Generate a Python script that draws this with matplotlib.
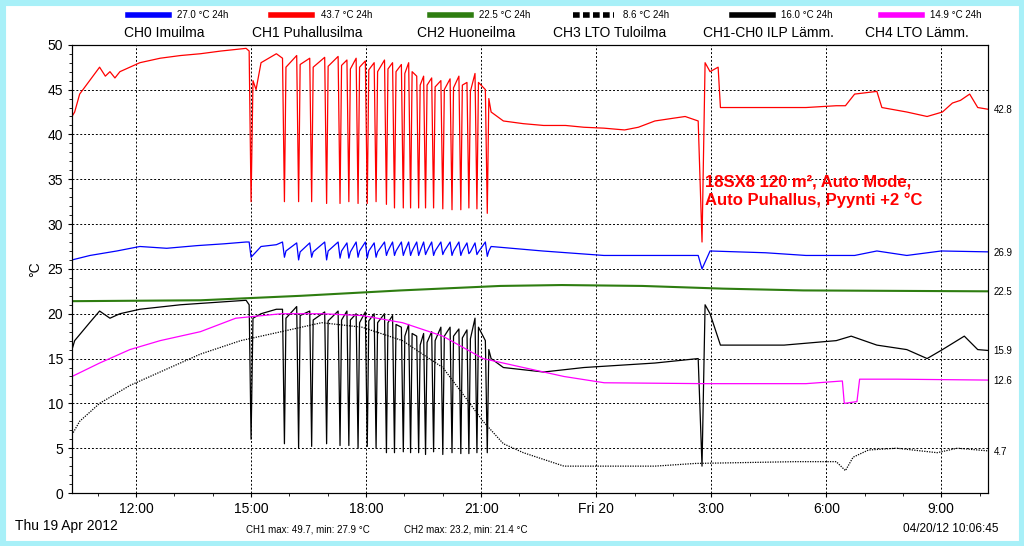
import numpy as np
import matplotlib.pyplot as plt
from matplotlib.patches import Rectangle
from matplotlib.lines import Line2D

plt.rcParams["font.family"] = ["Liberation Sans", "DejaVu Sans"]

###############################################
# Data (time in hours from Thu 00:00)
###############################################

# compressor cycling between 15:45 and 21:10
drop_t = [15.87, 16.24, 16.58, 16.97, 17.32, 17.55, 17.79, 18.03, 18.26, 18.53, 18.74,
          18.97, 19.16, 19.37, 19.55, 19.76, 20.0, 20.24, 20.47, 20.68, 20.89, 21.16]
ch1_peak = [48.5, 48.8, 48.5, 48.6, 48.7, 48.3, 48.5, 48.2, 48.0, 48.3, 48.0,
            47.8, 48.0, 46.5, 46.5, 46.3, 46.0, 46.2, 46.5, 45.8, 46.8, 45.0]
ch1_trough = [32.5, 32.5, 32.5, 32.3, 32.3, 32.5, 32.3, 32.3, 32.5, 32.2, 31.8,
              31.8, 31.8, 31.8, 31.8, 31.8, 31.7, 31.6, 31.6, 31.8, 31.7, 31.2]
ch0_peak = [28.0, 27.9, 27.9, 28.0, 28.0, 27.9, 28.0, 28.0, 27.9, 28.0, 28.0,
            28.0, 28.0, 28.0, 28.0, 28.0, 28.0, 28.0, 28.0, 27.9, 27.9, 28.0]
ch0_trough = [26.3, 26.0, 26.3, 26.0, 26.2, 26.2, 26.3, 26.2, 26.3, 26.5, 26.5,
              26.5, 26.5, 26.5, 26.6, 26.5, 26.6, 26.5, 26.5, 26.7, 26.6, 26.4]
dt_peak = [20.5, 20.8, 20.3, 20.2, 20.3, 20.3, 20.0, 20.2, 20.0, 20.0, 19.8,
           18.5, 18.8, 17.5, 17.8, 18.0, 18.5, 18.5, 18.3, 18.2, 19.5, 17.0]
dt_trough = [5.5, 5.0, 5.2, 5.5, 5.3, 5.3, 5.0, 5.2, 5.0, 4.5, 4.5,
             4.6, 4.5, 4.5, 4.3, 4.6, 4.3, 4.5, 4.4, 4.4, 4.5, 4.5]

ch1_t0 = [10.33, 10.4, 10.53, 10.79, 11.05, 11.2, 11.32, 11.45, 11.58, 12.1, 12.63,
          13.16, 13.68, 14.21, 14.87, 14.95, 15.0, 15.05, 15.13, 15.26, 15.66]
ch1_v0 = [42.0, 42.5, 44.5, 46.0, 47.5, 46.5, 47.0, 46.3, 47.0, 48.0, 48.5,
          48.8, 49.0, 49.3, 49.6, 49.3, 32.5, 46.0, 45.0, 48.0, 49.0]
ch1_t1 = [21.26, 21.58, 22.1, 22.63, 23.2, 23.68, 24.2, 24.74, 25.1, 25.53, 26.0,
          26.32, 26.66, 26.76, 26.84, 26.97, 27.18, 27.24, 28.42, 29.47, 30.26,
          30.5, 30.74, 31.32, 31.45, 32.1, 32.63, 33.03, 33.29, 33.5, 33.74, 33.95, 34.23]
ch1_v1 = [42.5, 41.5, 41.2, 41.0, 41.0, 40.8, 40.7, 40.5, 40.8, 41.5, 41.8,
          42.0, 41.5, 28.0, 48.0, 47.0, 47.5, 43.0, 43.0, 43.0, 43.2,
          43.2, 44.5, 44.8, 43.0, 42.5, 42.0, 42.5, 43.5, 43.8, 44.5, 43.0, 42.8]

ch0_t0 = [10.33, 10.8, 11.5, 12.1, 12.8, 13.6, 14.3, 14.87, 14.95, 15.0, 15.26, 15.66]
ch0_v0 = [26.0, 26.5, 27.0, 27.5, 27.3, 27.6, 27.8, 28.0, 28.0, 26.3, 27.5, 27.7]
ch0_t1 = [21.26, 22.6, 24.2, 26.66, 26.76, 26.97, 28.42, 29.47, 30.74, 31.32, 32.1, 33.0, 34.23]
ch0_v1 = [27.5, 27.0, 26.5, 26.5, 25.0, 27.0, 26.8, 26.5, 26.5, 27.0, 26.5, 27.0, 26.9]

ch2_t = [10.33, 13.68, 16.3, 18.9, 21.5, 23.1, 25.2, 27.3, 29.4, 34.23]
ch2_v = [21.4, 21.5, 22.0, 22.6, 23.1, 23.2, 23.1, 22.8, 22.6, 22.5]

dt_t0 = [10.33, 10.4, 10.79, 11.05, 11.32, 11.58, 12.1, 13.16, 14.87, 14.95, 15.0, 15.05,
         15.26, 15.66]
dt_v0 = [16.0, 17.0, 19.0, 20.3, 19.5, 20.0, 20.5, 21.0, 21.5, 21.0, 6.0, 19.5, 20.0, 20.5]
dt_t1 = [21.26, 21.58, 22.63, 23.68, 25.53, 26.66, 26.76, 26.84, 26.97, 27.24, 28.9,
         30.26, 30.65, 31.32, 32.1, 32.63, 33.03, 33.6, 33.95, 34.23]
dt_v1 = [15.0, 14.0, 13.5, 14.0, 14.5, 15.0, 3.0, 21.0, 20.0, 16.5, 16.5,
         17.0, 17.5, 16.5, 16.0, 15.0, 16.0, 17.5, 16.0, 15.9]

ch4_t = [10.33, 11.05, 11.84, 12.63, 13.68, 14.6, 15.79, 16.84, 17.89, 18.95, 20.0,
         21.05, 22.1, 23.16, 24.21, 26.84, 29.47, 30.42, 30.47, 30.8, 30.87, 31.84, 34.23]
ch4_v = [13.0, 14.5, 16.0, 17.0, 18.0, 19.5, 20.0, 20.0, 19.8, 19.0, 17.5,
         15.0, 14.0, 13.0, 12.3, 12.2, 12.2, 12.5, 10.0, 10.2, 12.7, 12.7, 12.6]

ch3_t = [10.33, 10.53, 11.05, 11.84, 12.89, 13.68, 14.73, 15.79, 16.84, 17.89, 18.95,
         19.47, 20.0, 20.53, 21.05, 21.58, 22.1, 23.16, 24.21, 25.53, 26.58, 29.2,
         30.26, 30.5, 30.7, 31.1, 31.84, 32.89, 33.42, 34.23]
ch3_v = [6.5, 8.0, 10.0, 12.0, 14.0, 15.5, 17.0, 18.0, 19.0, 18.5, 17.0,
         15.5, 14.0, 11.0, 8.0, 5.5, 4.5, 3.0, 3.0, 3.0, 3.3, 3.5,
         3.5, 2.5, 4.0, 4.8, 5.0, 4.5, 5.0, 4.7]

last_vals = [42.8, 26.9, 22.5, 15.9, 12.6, 4.7]
legend_vals = ["27.0 °C 24h", "43.7 °C 24h", "22.5 °C 24h", "8.6 °C 24h", "16.0 °C 24h", "14.9 °C 24h"]
names = ["CH0 Imuilma", "CH1 Puhallusilma", "CH2 Huoneilma", "CH3 LTO Tuloilma",
         "CH1-CH0 ILP Lämm.", "CH4 LTO Lämm."]
colors = ["#0000ff", "#ff0000", "#2e7d10", "#000000", "#000000", "#ff00ff"]

tick_h = [12, 15, 18, 21, 24, 27, 30, 33]
tick_lab = ["12:00", "15:00", "18:00", "21:00", "Fri 20", "3:00", "6:00", "9:00"]


def cycled(t0, v0, t1, v1, peaks, troughs):
    t, v = list(t0), list(v0)
    for d, p, q in zip(drop_t, peaks, troughs):
        t += [d - 0.05, d, d + 0.04]
        v += [p, q, p - 1.0]
    return np.array(t + list(t1)), np.array(v + list(v1))


###############################################
# Plot
###############################################

fig = plt.figure(figsize=(10.24, 5.46), dpi=100)
fig.patch.set_facecolor("white")
fig.add_artist(Rectangle((0, 0), 1, 1, transform=fig.transFigure, fill=False,
                         edgecolor="#a8f0f8", linewidth=8))

ax = fig.add_axes([0.0703, 0.097, 0.895, 0.821])

t, v = cycled(ch1_t0, ch1_v0, ch1_t1, ch1_v1, ch1_peak, ch1_trough)
ax.plot(t, v, color=colors[1], lw=0.9)
t, v = cycled(ch0_t0, ch0_v0, ch0_t1, ch0_v1, ch0_peak, ch0_trough)
ax.plot(t, v, color=colors[0], lw=0.9)
ax.plot(ch2_t, ch2_v, color=colors[2], lw=1.5)
ax.plot(ch3_t, ch3_v, color="black", lw=0.9, ls=(0, (1, 1)))
t, v = cycled(dt_t0, dt_v0, dt_t1, dt_v1, dt_peak, dt_trough)
ax.plot(t, v, color="black", lw=0.9)
ax.plot(ch4_t, ch4_v, color=colors[5], lw=0.9)

ax.set_xlim(10.33, 34.23)
ax.set_ylim(0, 50)
ax.set_xticks(tick_h)
ax.set_xticklabels(tick_lab, fontsize=10)
ax.set_xticks(np.arange(11, 35, 1), minor=True)
ax.set_yticks(np.arange(0, 51, 5))
ax.set_yticks(np.arange(0, 51, 1), minor=True)
ax.tick_params(labelsize=10, length=3)
ax.tick_params(which="minor", length=2)
ax.set_ylabel("°C", fontsize=10)
ax.grid(True, which="major", color="black", linestyle=(0, (2, 2)), linewidth=0.7)

ax2 = ax.twinx()
ax2.set_ylim(0, 50)
ax2.set_yticks(last_vals)
ax2.set_yticklabels([str(x) for x in last_vals], fontsize=7)
ax2.tick_params(length=0)

ax.text(26.85, 35.5, "18SX8 120 m², Auto Mode,\nAuto Puhallus, Pyynti +2 °C",
        color="red", fontsize=12, fontweight="bold", va="top", linespacing=1.25)

# top legend
xs = [0.125, 0.265, 0.42, 0.56, 0.715, 0.86]
for x, c, lab, nm, i in zip(xs, colors, legend_vals, names, range(6)):
    ls = (0, (1.2, 0.6)) if i == 3 else "-"
    fig.add_artist(Line2D([x, x + 0.04], [0.972, 0.972], color=c, lw=4, ls=ls,
                          transform=fig.transFigure))
    fig.text(x + 0.048, 0.972, lab, fontsize=7, va="center")
    fig.text(x + 0.035, 0.94, nm, fontsize=10, va="center", ha="center")

fig.text(0.015, 0.03, "Thu 19 Apr 2012", fontsize=10)
fig.text(0.24, 0.025, "CH1 max: 49.7, min: 27.9 °C", fontsize=7)
fig.text(0.395, 0.025, "CH2 max: 23.2, min: 21.4 °C", fontsize=7)
fig.text(0.975, 0.025, "04/20/12 10:06:45", fontsize=8.5, ha="right")

fig.savefig("out.png", dpi=100)
